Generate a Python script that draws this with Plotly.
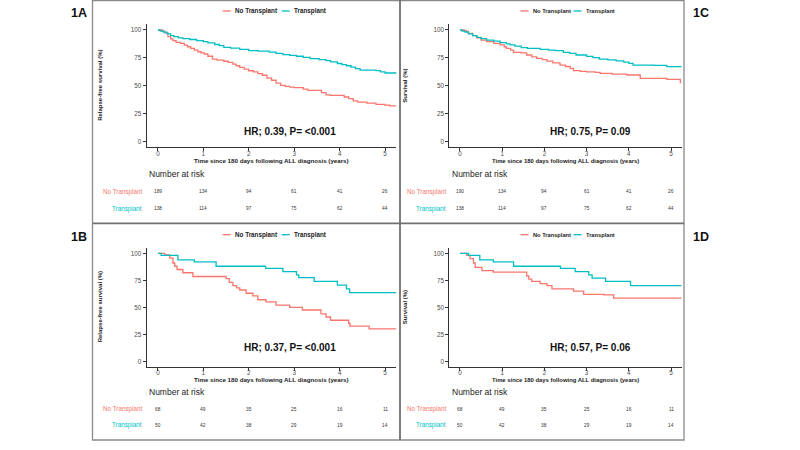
import plotly.graph_objects as go

RED = "#F8766D"
TEAL = "#00BFC4"
FONT = "Liberation Sans, Arial, sans-serif"

# ---------------- data ----------------
groups = ["No Transplant", "Transplant"]
x_ticks = [0, 1, 2, 3, 4, 5]
y_ticks = [0, 25, 50, 75, 100]

# Panel 1A: relapse-free survival, full cohort
a_no_t = [0, 0.1, 0.15, 0.22, 0.28, 0.33, 0.4, 0.5, 0.58, 0.65, 0.72, 0.8, 0.88, 0.95, 1.02, 1.1, 1.2,
          1.3, 1.45, 1.55, 1.65, 1.72, 1.8, 1.9, 2.0, 2.1, 2.2, 2.3, 2.4, 2.5, 2.6, 2.7, 2.8, 2.9, 3.0,
          3.2, 3.3, 3.6, 3.7, 3.8, 4.1, 4.2, 4.3, 4.4, 4.6, 4.8, 5.0, 5.1, 5.25]
a_no_s = [100, 99, 97.5, 94, 92, 90.5, 89, 88, 86.5, 85, 83.5, 82, 80.5, 79.5, 78.5, 76.5, 74,
          73, 72, 71, 69.5, 68, 66.5, 65, 63.5, 62.5, 61, 59.5, 57, 55, 52.5, 50.5, 49.5, 48.8, 48.5,
          47, 46, 44, 42, 41.5, 40, 38.5, 36.5, 35.5, 34.5, 33.5, 32.8, 32, 32]
a_tx_t = [0, 0.05, 0.12, 0.2, 0.28, 0.35, 0.45, 0.55, 0.7, 0.85, 1.0, 1.1, 1.25, 1.35, 1.45, 1.6, 1.8,
          2.0, 2.2, 2.45, 2.6, 2.75, 2.9, 3.05, 3.2, 3.35, 3.55, 3.7, 3.8, 3.95, 4.05, 4.15, 4.25, 4.35,
          4.45, 4.8, 4.9, 5.0, 5.25]
a_tx_s = [100, 99, 98, 96.5, 95, 94, 93, 92.3, 91.5, 90.5, 89.5, 88.5, 87, 86, 84.5, 83.7, 82.7,
          81.5, 81, 80.2, 79, 78, 77.2, 76.5, 75.5, 74.3, 73.5, 72.5, 71.5, 70, 69, 68, 66.8, 65.5,
          64, 63.6, 62.5, 61.5, 61.2]
a_risk_no = [189, 134, 94, 61, 41, 26]
a_risk_tx = [138, 114, 97, 75, 62, 44]

# Panel 1C: overall survival, full cohort
c_no_t = [0, 0.1, 0.15, 0.2, 0.3, 0.4, 0.5, 0.63, 0.8, 0.95, 1.05, 1.1, 1.2, 1.27, 1.45, 1.58, 1.7,
          1.82, 1.95, 2.06, 2.2, 2.37, 2.5, 2.61, 2.69, 2.85, 3.0, 3.2, 3.32, 3.6, 3.96, 4.27, 4.9,
          5.22, 5.25]
c_no_s = [100, 99.5, 98.8, 97, 95, 93, 91, 89.6, 88, 86.6, 85, 83.5, 82, 80, 79.5, 77.6, 76,
          74.6, 73.5, 72.2, 70.5, 68.6, 67.3, 65.7, 63.6, 63, 62.5, 62, 61.2, 60.5, 59.7, 56.7, 55.8,
          52.8, 52.8]
c_tx_t = [0, 0.05, 0.12, 0.2, 0.3, 0.4, 0.5, 0.63, 0.8, 0.95, 1.1, 1.19, 1.3, 1.45, 1.6, 1.9, 2.1,
          2.25, 2.45, 2.6, 2.75, 3.0, 3.15, 3.3, 3.5, 3.7, 3.88, 4.0, 4.1, 4.6, 4.9, 5.25]
c_tx_s = [100, 99, 98, 96.5, 95, 93.4, 92.3, 91, 90, 88.7, 87.5, 86.6, 85.5, 84.3, 83.6, 82.7, 82,
          81.5, 80, 79, 77.6, 76.3, 75.3, 74, 73.2, 72.3, 71.2, 70.2, 68.6, 68.3, 67.2, 67]
c_risk_no = [190, 134, 94, 61, 41, 26]
c_risk_tx = [138, 114, 97, 75, 62, 44]

# Panel 1B: relapse-free survival, subgroup
b_no_t = [0, 0.15, 0.26, 0.33, 0.37, 0.42, 0.55, 0.77, 1.5, 1.57, 1.65, 1.73, 1.8, 1.94, 2.09, 2.2,
          2.38, 2.6, 2.9, 3.18, 3.59, 3.7, 3.8, 4.2, 4.23, 4.65, 5.25]
b_no_s = [100, 98.5, 95.5, 91, 88, 85, 82, 78.5, 76.5, 73, 70, 68, 66, 63, 60.5, 57,
          55, 52, 50, 47.5, 44, 41, 38, 35, 32.5, 30, 30]
b_tx_t = [0, 0.07, 0.44, 0.8, 1.28, 2.37, 2.75, 3.05, 3.1, 3.44, 3.95, 4.15, 4.22, 5.25]
b_tx_s = [100, 98, 94, 92, 88, 86, 83, 80, 77.5, 74, 70.5, 67, 63.5, 63.5]
b_risk_no = [68, 49, 35, 25, 16, 11]
b_risk_tx = [50, 42, 38, 29, 19, 14]

# Panel 1D: overall survival, subgroup
d_no_t = [0, 0.16, 0.24, 0.32, 0.36, 0.52, 0.79, 1.58, 1.63, 1.7, 1.9, 2.06, 2.18, 2.69, 2.93, 3.41,
          3.64, 5.25]
d_no_s = [100, 98, 95, 91, 87, 84, 82.5, 79, 76, 74, 72, 70, 67, 65, 62, 61.5, 58.5, 58.5]
d_tx_t = [0, 0.2, 0.47, 0.79, 1.27, 2.38, 2.73, 3.05, 3.13, 3.45, 4.04, 5.25]
d_tx_s = [100, 98, 94, 92, 88, 86, 83, 80, 77, 74, 70, 70]
d_risk_no = [68, 49, 35, 25, 16, 11]
d_risk_tx = [50, 42, 38, 29, 19, 14]

panel_labels = ["1A", "1C", "1B", "1D"]
y_titles = ["Relapse-free survival (%)", "Survival (%)", "Relapse-free survival (%)", "Survival (%)"]
hr_texts = ["HR; 0.39, P= <0.001", "HR; 0.75, P= 0.09", "HR; 0.37, P= <0.001", "HR; 0.57, P= 0.06"]
x_title = "Time since 180 days following ALL diagnosis (years)"

# ---------------- layout helpers (pixel -> paper) ----------------
W, H = 800, 450
def px(x):
    return x / W
def py(y):
    return 1 - y / H

panels = [
    dict(key="", x0=146.6, x1=396.4, y0=24.4, y1=147.3, curves=(a_no_t, a_no_s, a_tx_t, a_tx_s),
         risk=(a_risk_no, a_risk_tx), off_x=0, off_y=0),
    dict(key="2", x0=449.4, x1=681.6, y0=24.4, y1=147.3, curves=(c_no_t, c_no_s, c_tx_t, c_tx_s),
         risk=(c_risk_no, c_risk_tx), off_x=1, off_y=0),
    dict(key="3", x0=146.6, x1=396.4, y0=247.9, y1=366.7, curves=(b_no_t, b_no_s, b_tx_t, b_tx_s),
         risk=(b_risk_no, b_risk_tx), off_x=0, off_y=1),
    dict(key="4", x0=449.4, x1=681.6, y0=247.9, y1=366.7, curves=(d_no_t, d_no_s, d_tx_t, d_tx_s),
         risk=(d_risk_no, d_risk_tx), off_x=1, off_y=1),
]

fig = go.Figure()
annotations = []
shapes = []
layout = {}

for i, p in enumerate(panels):
    k = p["key"]
    xa = "x" + k
    ya = "y" + k
    left = p["off_x"] == 0
    top = p["off_y"] == 0
    no_t, no_s, tx_t, tx_s = p["curves"]
    fig.add_trace(go.Scatter(x=no_t, y=no_s, mode="lines", line=dict(color=RED, width=1.3, shape="hv"),
                             name=groups[0], showlegend=False, xaxis=xa, yaxis=ya))
    fig.add_trace(go.Scatter(x=tx_t, y=tx_s, mode="lines", line=dict(color=TEAL, width=1.3, shape="hv"),
                             name=groups[1], showlegend=False, xaxis=xa, yaxis=ya))
    axstyle = dict(showline=True, linecolor="#333333", linewidth=1, ticks="outside", ticklen=3,
                   tickcolor="#333333", tickwidth=1, showgrid=False, zeroline=False,
                   tickfont=dict(family=FONT, size=6.3, color="#4d4d4d"), fixedrange=True)
    layout["xaxis" + k] = dict(domain=[px(p["x0"]), px(p["x1"])], range=[-0.25, 5.25],
                               tickvals=x_ticks, anchor=ya, ticklabelstandoff=-3, **axstyle)
    layout["yaxis" + k] = dict(domain=[py(p["y1"]), py(p["y0"])], range=[-5, 105],
                               tickvals=y_ticks, anchor=xa, **axstyle)

    cx = (p["x0"] + p["x1"]) / 2
    # legend (custom)
    leg_font = 6.3 if left else 5.7
    lx = 222.7 if left else 520.5
    tx_lx = 281.7 if left else 573.5
    ly = 11 if top else 234.7
    for (sx, col, label) in [(lx, RED, groups[0]), (tx_lx, TEAL, groups[1])]:
        shapes.append(dict(type="line", xref="paper", yref="paper", x0=px(sx), x1=px(sx + 8.0),
                           y0=py(ly), y1=py(ly), line=dict(color=col, width=1.3)))
        annotations.append(dict(xref="paper", yref="paper", x=px(sx + 10.0), y=py(ly), xanchor="left",
                                yanchor="middle", showarrow=False, text="<b>%s</b>" % label,
                                font=dict(family=FONT, size=leg_font, color="#222222")))
    # y title
    ytx = 100 if left else 405
    annotations.append(dict(xref="paper", yref="paper", x=px(ytx), y=py((p["y0"] + p["y1"]) / 2),
                            xanchor="center", yanchor="middle", showarrow=False, textangle=-90,
                            text="<b>%s</b>" % y_titles[i], font=dict(family=FONT, size=6, color="#222222")))
    # x title
    xty = 160.7 if top else 379.5
    annotations.append(dict(xref="paper", yref="paper", x=px(cx), y=py(xty), xanchor="center",
                            yanchor="middle", showarrow=False, text="<b>%s</b>" % x_title,
                            font=dict(family=FONT, size=6.2 if left else 5.9, color="#222222")))
    # HR text
    hrx = 290 if left else 590.5
    hry = 131 if top else 347.3
    annotations.append(dict(xref="paper", yref="paper", x=px(hrx), y=py(hry), xanchor="center",
                            yanchor="middle", showarrow=False, text="<b>%s</b>" % hr_texts[i],
                            font=dict(family=FONT, size=10, color="#111111")))
    # number at risk
    nrx = 147 if left else 450
    nry = 174 if top else 392
    annotations.append(dict(xref="paper", yref="paper", x=px(nrx), y=py(nry), xanchor="left",
                            yanchor="middle", showarrow=False, text="Number at risk",
                            font=dict(family=FONT, size=8.5, color="#222222")))
    rows_y = (191.7, 208.5) if top else (409, 425)
    lab_x = 144 if left else 447.7
    for r, (vals, col, label) in enumerate([(p["risk"][0], RED, groups[0]), (p["risk"][1], TEAL, groups[1])]):
        annotations.append(dict(xref="paper", yref="paper", x=px(lab_x), y=py(rows_y[r]), xanchor="right",
                                yanchor="middle", showarrow=False, text=label,
                                font=dict(family=FONT, size=6.3, color=col)))
        for t, v in zip(x_ticks, vals):
            annotations.append(dict(xref=xa, yref="paper", x=t, y=py(rows_y[r]), xanchor="center",
                                    yanchor="middle", showarrow=False, text=str(v),
                                    font=dict(family=FONT, size=4.8, color="#333333")))
    # panel label
    plx = 79 if left else 701
    ply = 13 if top else 237
    annotations.append(dict(xref="paper", yref="paper", x=px(plx), y=py(ply), xanchor="center",
                            yanchor="middle", showarrow=False, text="<b>%s</b>" % panel_labels[i],
                            font=dict(family=FONT, size=12.5, color="#111111")))

# frame lines
shapes.append(dict(type="rect", xref="paper", yref="paper", x0=px(92.5), x1=px(684), y0=py(440), y1=py(0.7),
                   line=dict(color="#8a8a8a", width=1.3)))
shapes.append(dict(type="line", xref="paper", yref="paper", x0=px(400), x1=px(400), y0=py(440), y1=py(0),
                   line=dict(color="#707070", width=1.8)))
shapes.append(dict(type="line", xref="paper", yref="paper", x0=px(92.5), x1=px(684), y0=py(223.3), y1=py(223.3),
                   line=dict(color="#707070", width=1.8)))

fig.update_layout(width=W, height=H, margin=dict(l=0, r=0, t=0, b=0), paper_bgcolor="white",
                  plot_bgcolor="white", showlegend=False, annotations=annotations, shapes=shapes,
                  font=dict(family=FONT), **layout)

fig.write_html("out.html")
